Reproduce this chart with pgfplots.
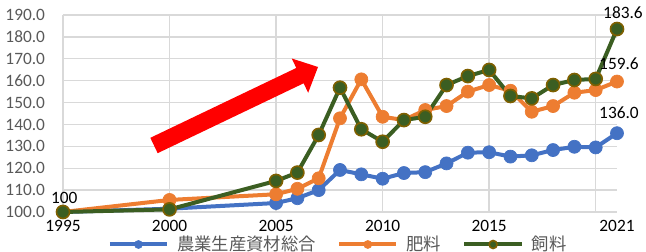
\documentclass[border=0pt]{standalone}
\usepackage{fontspec}
\setmainfont{Carlito}
\newfontfamily\jp{Noto Sans CJK JP}
\usepackage{pgfplots}
\pgfplotsset{compat=1.18}
\definecolor{cblue}{HTML}{4472C4}
\definecolor{corange}{HTML}{ED7D31}
\definecolor{cgreen}{HTML}{3B5E22}
\definecolor{cgedge}{HTML}{7F6000}
\definecolor{gridc}{HTML}{D9D9D9}
\definecolor{labc}{HTML}{595959}
\begin{document}
\begin{tikzpicture}[font=\fontsize{13}{15}\selectfont]
\begin{axis}[
  at={(47.25pt,30pt)}, anchor=south west,
  scale only axis, width=415.5pt, height=147.75pt,
  xmin=1995, xmax=2021, ymin=100, ymax=190,
  clip=false,
  axis line style={draw=none},
  tick style={draw=none},
  ytick={100,110,120,130,140,150,160,170,180,190},
  ymajorgrids,
  major grid style={draw=gridc, line width=1pt},
  xtick={1995,2000,2005,2010,2015,2021},
  xticklabels={1995,2000,2005,2010,2015,2021},
  extra x ticks={1995,2000,2005,2010,2015,2020},
  extra x tick labels={},
  extra x tick style={grid=major},
  /pgf/number format/assume math mode=true,
  yticklabel={\pgfmathprintnumber[fixed,fixed zerofill,precision=1]{\tick}},
  yticklabel style={text=labc, inner sep=0pt, xshift=-12pt},
  xticklabel style={text=black, inner sep=0pt, yshift=-4.5pt},
  legend style={at={(0.496,-0.165)}, anchor=center, draw=none, fill=none,
    legend columns=3, text=labc,
    nodes={inner sep=1pt},
    /tikz/every odd column/.append style={column sep=5pt},
    /tikz/every even column/.append style={column sep=15pt}},
  legend image code/.code={\draw[mark repeat=2,mark phase=2,mark size=3pt] plot coordinates {(0pt,0pt) (21.5pt,0pt) (43pt,0pt)};},
  line width=3pt,
]
\addplot[cblue, mark=*, mark size=4.9pt, mark options={fill=cblue, draw=cblue, line width=0.5pt}] coordinates {
(1995,100) (2000,101.5) (2005,104.1) (2006,106.3) (2007,110.0) (2008,119.2) (2009,117.2) (2010,115.2)
(2011,117.8) (2012,118.2) (2013,122.2) (2014,127.1) (2015,127.3) (2016,125.3) (2017,125.9)
(2018,128.3) (2019,129.8) (2020,129.5) (2021,136.0)};
\addlegendentry{\jp 農業生産資材総合}
\addplot[corange, mark=*, mark size=4.9pt, mark options={fill=corange, draw=corange, line width=0.5pt}] coordinates {
(1995,100) (2000,105.5) (2005,108.1) (2006,110.6) (2007,115.4) (2008,142.8) (2009,160.6) (2010,143.5)
(2011,142.0) (2012,146.6) (2013,148.4) (2014,155.0) (2015,158.0) (2016,155.4) (2017,145.8)
(2018,148.4) (2019,154.5) (2020,155.7) (2021,159.6)};
\addlegendentry{\jp 肥料}
\addplot[cgreen, mark=*, mark size=4.9pt, mark options={fill=cgreen, draw=cgedge, line width=1.2pt}] coordinates {
(1995,100) (2000,101.2) (2005,114.2) (2006,118.0) (2007,135.2) (2008,156.8) (2009,137.8) (2010,132.1)
(2011,142.0) (2012,143.5) (2013,158.0) (2014,162.1) (2015,164.9) (2016,153.0) (2017,151.9)
(2018,158.0) (2019,160.3) (2020,160.8) (2021,183.6)};
\addlegendentry{\jp 飼料}
\node[text=black, xshift=1pt, yshift=10.5pt] at (axis cs:1995,100) {100};
\node[text=black, xshift=4.5pt, yshift=12.4pt] at (axis cs:2021,183.6) {183.6};
\node[text=black, xshift=1.5pt, yshift=13.5pt] at (axis cs:2021,159.6) {159.6};
\node[text=black, xshift=1.5pt, yshift=15pt] at (axis cs:2021,136.0) {136.0};
\end{axis}
\fill[red] (112.75pt,85.63pt) -- (222.22pt,138.02pt) -- (218.82pt,145.13pt) -- (238.5pt,138.75pt)
  -- (231.12pt,119.42pt) -- (227.72pt,126.52pt) -- (118.25pt,74.12pt) -- cycle;
\pgfresetboundingbox
\path (0pt,0pt) rectangle (484.5pt,189pt);
\end{tikzpicture}
\end{document}
